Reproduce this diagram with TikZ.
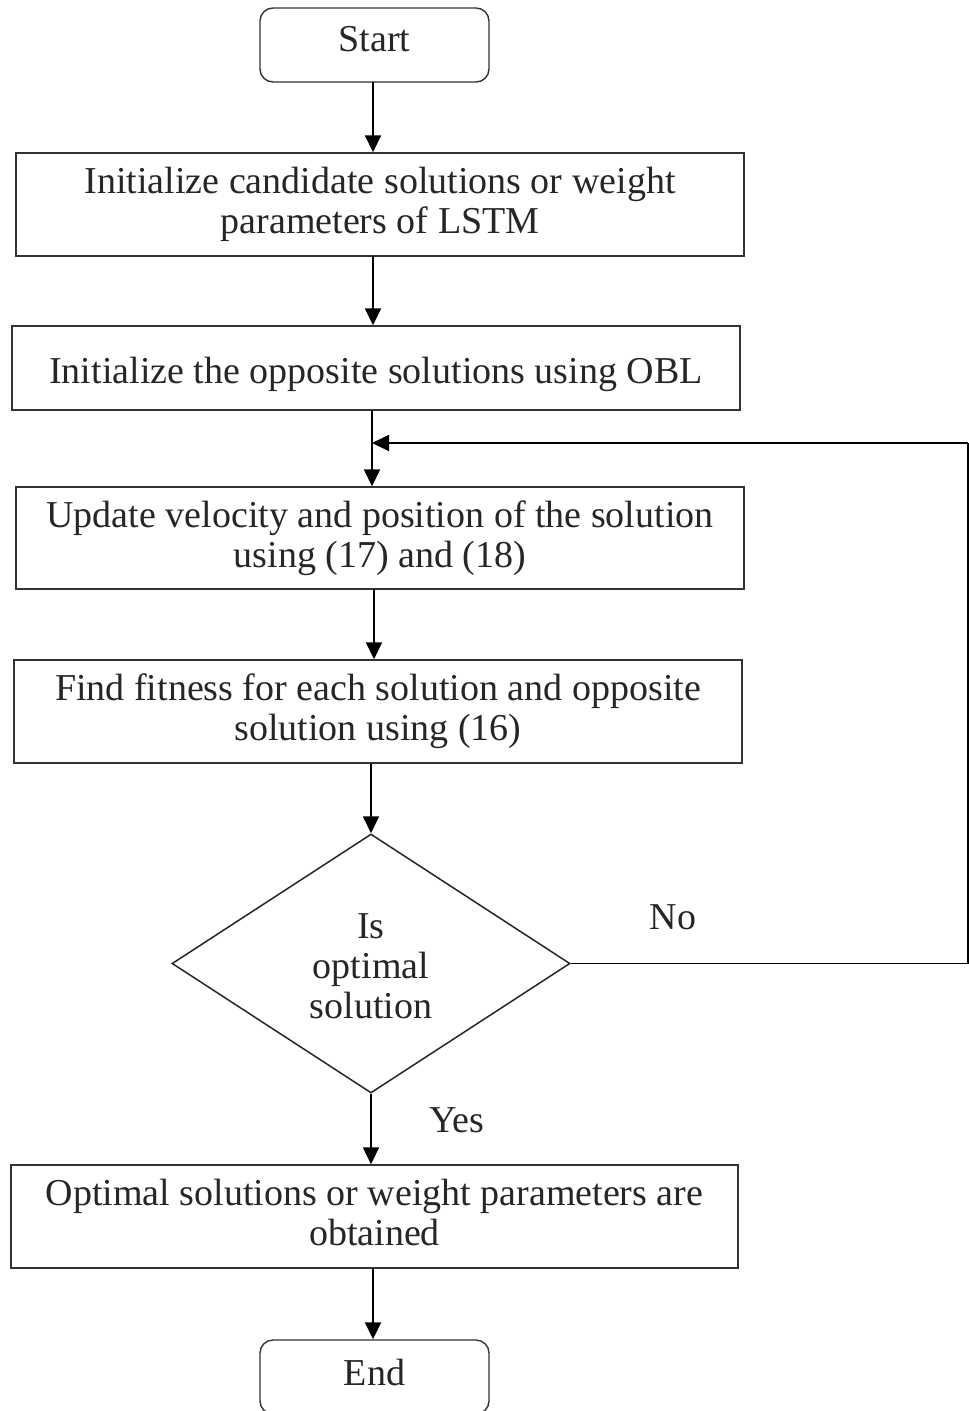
\documentclass[tikz,border=0pt]{standalone}
\usepackage{fontspec}
\setmainfont{Liberation Serif}
\usetikzlibrary{shapes.geometric,arrows.meta}
\begin{document}
\begin{tikzpicture}[x=1pt,y=-1pt,
  every node/.style={font=\fontsize{38}{40}\selectfont, text=black!85},
  txt/.style={align=center, inner sep=0pt},
  terminal/.style={draw=black!80, line width=1.4pt, rounded corners=13pt,
    minimum width=229pt, minimum height=74pt, inner sep=0pt},
  procbox/.style={draw=black!80, line width=1.4pt, align=center,
    minimum width=728pt, minimum height=103pt, inner sep=0pt},
  decision/.style={draw=black!85, line width=1.5pt, diamond, align=center,
    minimum width=398pt, minimum height=259pt, inner sep=0pt},
  flow/.style={draw=black, line width=1.8pt,
    -{Triangle[width=16pt,length=17pt]}},
  plain/.style={draw=black, line width=1.8pt}]

\useasboundingbox (0,0) rectangle (969,1411);

% boxes
\node[terminal] (start) at (374.5,45) {};
\node[procbox] (init) at (380,204.5)
  {Initialize candidate solutions or weight\\parameters of LSTM};
\node[procbox, minimum height=84pt] (obl) at (376,368) {};
\node[procbox, minimum height=102pt] (upd) at (380,538)
  {Update velocity and position of the solution\\using (17) and (18)};
\node[procbox] (fit) at (378,711.5)
  {Find fitness for each solution and opposite\\solution using (16)};
\node[decision] (dec) at (371,963.5) {};
\node[procbox, minimum width=727pt] (opt) at (374.5,1216.5) {};
\node[terminal] (end) at (374.5,1377) {};

% texts placed slightly off the box centres
\node[txt] (startT) at ([yshift=6pt]start.center) {Start};
\node[txt] (oblT) at ([yshift=-6pt]obl.center)
  {Initialize the opposite solutions using OBL};
\node[txt] (decT) at ([yshift=-3pt]dec.center) {Is\\optimal\\solution};
\node[txt] (optT) at ([yshift=4.5pt]opt.center)
  {Optimal solutions or weight parameters are\\obtained};
\node[txt] (endT) at ([yshift=5pt]end.center) {End};

\node (no) at (673,917) {No};
\node (yes) at (457,1120) {Yes};

\coordinate (join) at (372,443);

% connectors
\draw[flow] (373,82) coordinate (s1) -- (s1 |- init.north);
\draw[flow] (373,256) coordinate (s2) -- (s2 |- obl.north);
\draw[flow] (372,410) coordinate (s3) -- (s3 |- upd.north);
\draw[flow] (374,589) coordinate (s4) -- (s4 |- fit.north);
\draw[flow] (fit.south -| dec.north) -- (dec.north);
\draw[flow] (dec.south) -- (dec.south |- opt.north);
\draw[flow] (373,1268) coordinate (s7) -- (s7 |- end.north);

\draw[plain] (dec.east) -- (968,963.5) -- (968,443) coordinate (loop);
\draw[flow] (loop) -- (join);
\end{tikzpicture}
\end{document}
